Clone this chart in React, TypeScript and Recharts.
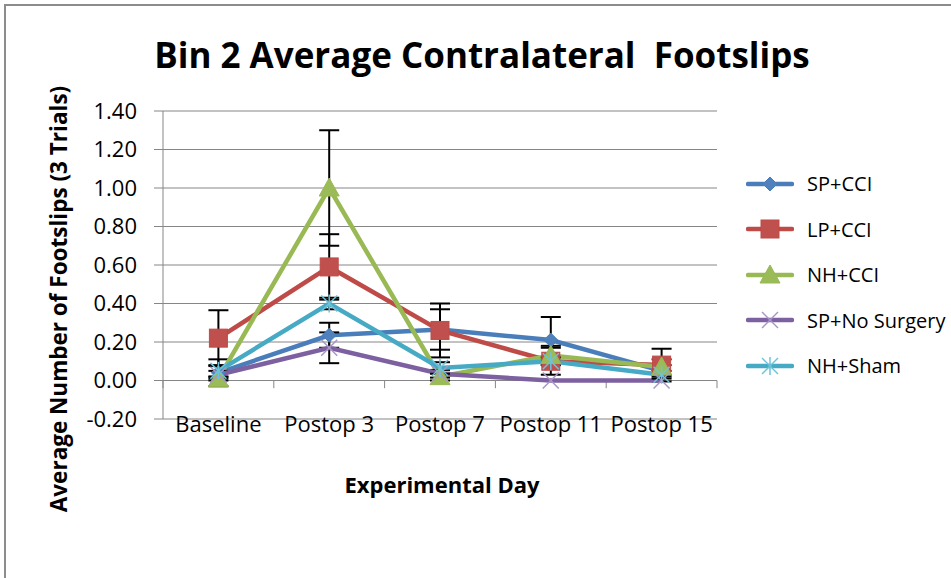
import React from 'react';
import {
  LineChart,
  Line,
  XAxis,
  YAxis,
  CartesianGrid,
  ReferenceLine,
  ErrorBar,
} from 'recharts';

const FONT = "'Open Sans', Carlito, Calibri, Lato, sans-serif";

const CATEGORIES = ['Baseline', 'Postop 3', 'Postop 7', 'Postop 11', 'Postop 15'];
const Y_TICKS = [-0.2, 0, 0.2, 0.4, 0.6, 0.8, 1.0, 1.2, 1.4];

// series means + error bar half-widths
const SP_CCI        = [0.04, 0.235, 0.265, 0.21, 0.05];
const SP_CCI_ERR    = [0.07, 0.065, 0.105, 0.12, 0.03];
const LP_CCI        = [0.22, 0.59, 0.26, 0.10, 0.08];
const LP_CCI_ERR    = [0.145, 0.17, 0.14, 0.07, 0.085];
const NH_CCI        = [0.01, 1.00, 0.02, 0.13, 0.07];
const NH_CCI_ERR    = [0.01, 0.30, 0.02, 0.05, 0.04];
const SP_NOSURG     = [0.03, 0.17, 0.035, 0.00, 0.00];
const SP_NOSURG_ERR = [0.02, 0.08, 0.02, 0.00, 0.00];
const NH_SHAM       = [0.05, 0.40, 0.065, 0.10, 0.03];
const NH_SHAM_ERR   = [0.03, 0.03, 0.03, 0.02, 0.02];

const data = CATEGORIES.map((name, i) => ({
  idx: i,
  name,
  sp: SP_CCI[i],
  spErr: SP_CCI_ERR[i] || undefined,
  lp: LP_CCI[i],
  lpErr: LP_CCI_ERR[i] || undefined,
  nh: NH_CCI[i],
  nhErr: NH_CCI_ERR[i] || undefined,
  spns: SP_NOSURG[i],
  spnsErr: SP_NOSURG_ERR[i] || undefined,
  sham: NH_SHAM[i],
  shamErr: NH_SHAM_ERR[i] || undefined,
}));

// category boundaries for the little tick marks on the zero line
const EDGES = CATEGORIES.map((_, i) => i - 0.5).concat([CATEGORIES.length - 0.5]);

const GRID = '#868686';

type MarkerKind = 'diamond' | 'square' | 'triangle' | 'x' | 'star';

function Marker({ kind, cx, cy }: { kind: MarkerKind; cx: number; cy: number }) {
  if (kind === 'diamond') {
    return (
      <polygon
        points={`${cx},${cy - 7} ${cx + 7},${cy} ${cx},${cy + 7} ${cx - 7},${cy}`}
        fill="#4F81BD"
        stroke="#4A7EBB"
      />
    );
  }
  if (kind === 'square') {
    return <rect x={cx - 9} y={cy - 9} width={18} height={18} fill="#C0504D" stroke="#BE4B48" />;
  }
  if (kind === 'triangle') {
    return (
      <polygon
        points={`${cx},${cy - 10} ${cx + 10},${cy + 8} ${cx - 10},${cy + 8}`}
        fill="#9BBB59"
        stroke="#98B954"
      />
    );
  }
  if (kind === 'x') {
    return (
      <g stroke="#A896C8" strokeWidth={1.5}>
        <line x1={cx - 8} y1={cy - 8} x2={cx + 8} y2={cy + 8} />
        <line x1={cx - 8} y1={cy + 8} x2={cx + 8} y2={cy - 8} />
      </g>
    );
  }
  return (
    <g stroke="#6CC3DA" strokeWidth={1.5}>
      <line x1={cx - 8} y1={cy - 8} x2={cx + 8} y2={cy + 8} />
      <line x1={cx - 8} y1={cy + 8} x2={cx + 8} y2={cy - 8} />
      <line x1={cx} y1={cy - 9} x2={cx} y2={cy + 9} />
    </g>
  );
}

const SERIES: { key: string; err: string; name: string; color: string; marker: MarkerKind }[] = [
  { key: 'sp',   err: 'spErr',   name: 'SP+CCI',        color: '#4A7EBB', marker: 'diamond' },
  { key: 'lp',   err: 'lpErr',   name: 'LP+CCI',        color: '#BE4B48', marker: 'square' },
  { key: 'nh',   err: 'nhErr',   name: 'NH+CCI',        color: '#98B954', marker: 'triangle' },
  { key: 'spns', err: 'spnsErr', name: 'SP+No Surgery', color: '#7D60A0', marker: 'x' },
  { key: 'sham', err: 'shamErr', name: 'NH+Sham',       color: '#46AAC5', marker: 'star' },
];

export default function App() {
  return (
    <div style={{
      position: 'fixed',
      left: 0,
      top: 0,
      width: 951,
      height: 578,
      overflow: 'hidden',
      background: '#fff',
      fontFamily: FONT,
    }}>
      {/* outer chart frame, only top/left edges are inside the window */}
      <div style={{
        position: 'absolute',
        left: 4,
        top: 4,
        width: 960,
        height: 600,
        borderTop: '2px solid #8c8c8c',
        borderLeft: '2px solid #8c8c8c',
      }} />

      <div style={{
        position: 'absolute',
        left: 0,
        width: 964,
        top: 31,
        textAlign: 'center',
        fontSize: 35,
        fontWeight: 700,
        color: '#000',
        whiteSpace: 'pre',
        lineHeight: '48px',
      }}>
        {'Bin 2 Average Contralateral  Footslips'}
      </div>

      <LineChart
        width={951}
        height={578}
        data={data}
        margin={{ top: 111, right: 234, bottom: 129, left: 40 }}
        style={{ position: 'absolute', left: 0, top: 0 }}
      >
        <CartesianGrid vertical={false} stroke={GRID} strokeWidth={1} />
        <XAxis
          dataKey="idx"
          type="number"
          domain={[-0.5, CATEGORIES.length - 0.5]}
          ticks={CATEGORIES.map((_, i) => i)}
          tickFormatter={(i: number) => CATEGORIES[i] ?? ''}
          axisLine={false}
          tickLine={false}
          tickSize={0}
          tickMargin={-3}
          height={30}
          interval={0}
          tick={{ fontFamily: FONT, fontSize: 22, fill: '#000' }}
        />
        <YAxis
          type="number"
          domain={[-0.2, 1.4]}
          ticks={Y_TICKS}
          tickFormatter={(v: number) => v.toFixed(2)}
          width={123}
          axisLine={{ stroke: GRID }}
          tickLine={{ stroke: GRID }}
          tickSize={9}
          tickMargin={17}
          tick={{ fontFamily: FONT, fontSize: 22, fill: '#000' }}
          label={{
            content: () => (
              <text
                x={58}
                y={299}
                transform="rotate(-90, 58, 299)"
                textAnchor="middle"
                dominantBaseline="central"
                fontFamily={FONT}
                fontSize={22.5}
                fontWeight={700}
                fill="#000"
              >
                Average Number of Footslips (3 Trials)
              </text>
            ),
          }}
        />

        <ReferenceLine y={0} stroke={GRID} />
        {EDGES.map(e => (
          <ReferenceLine
            key={e}
            segment={[{ x: e, y: 0 }, { x: e, y: -0.04 }]}
            stroke={GRID}
          />
        ))}

        {SERIES.map(s => (
          <Line
            key={s.key}
            dataKey={s.key}
            name={s.name}
            type="linear"
            stroke={s.color}
            strokeWidth={4.5}
            isAnimationActive={false}
            activeDot={false}
            dot={(p: any) => <Marker key={`${s.key}-${p.index}`} kind={s.marker} cx={p.cx} cy={p.cy} />}
          >
            <ErrorBar dataKey={s.err} direction="y" width={10} stroke="#000" strokeWidth={2} />
          </Line>
        ))}
      </LineChart>

      <div style={{
        position: 'absolute',
        left: 0,
        width: 884,
        top: 468,
        textAlign: 'center',
        fontSize: 22,
        fontWeight: 700,
        lineHeight: '32px',
      }}>
        Experimental Day
      </div>

      {/* legend */}
      <div style={{ position: 'absolute', left: 746, top: 161 }}>
        {SERIES.map(s => (
          <div key={s.key} style={{ display: 'flex', alignItems: 'center', height: 45.5 }}>
            <svg width={48} height={28} style={{ flex: 'none' }}>
              <line x1={2} y1={14} x2={46} y2={14} stroke={s.color} strokeWidth={4.5} strokeLinecap="round" />
              <Marker kind={s.marker} cx={24} cy={14} />
            </svg>
            <span style={{ marginLeft: 13, fontSize: 20, color: '#000', whiteSpace: 'nowrap' }}>{s.name}</span>
          </div>
        ))}
      </div>
    </div>
  );
}
